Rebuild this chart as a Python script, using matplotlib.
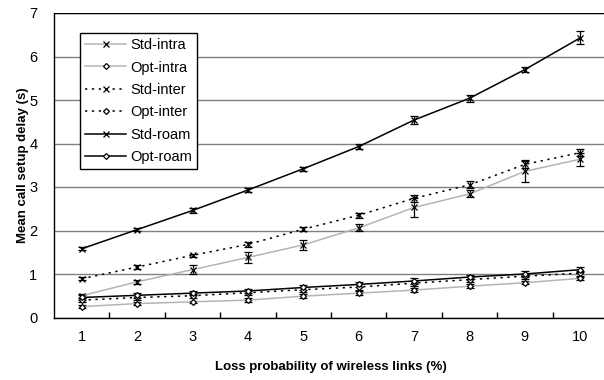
import matplotlib.pyplot as plt
import numpy as np
from matplotlib.lines import Line2D

plt.rcParams["font.family"] = ["Liberation Sans", "DejaVu Sans"]

loss = [1, 2, 3, 4, 5, 6, 7, 8, 9, 10]

std_intra = [0.50, 0.82, 1.10, 1.38, 1.67, 2.06, 2.53, 2.84, 3.36, 3.64]
opt_intra = [0.25, 0.32, 0.36, 0.40, 0.49, 0.56, 0.63, 0.72, 0.80, 0.90]
std_inter = [0.89, 1.16, 1.43, 1.68, 2.03, 2.35, 2.74, 3.05, 3.52, 3.79]
opt_inter = [0.40, 0.46, 0.50, 0.57, 0.64, 0.70, 0.79, 0.87, 0.95, 1.02]
std_roam = [1.58, 2.02, 2.46, 2.93, 3.42, 3.93, 4.54, 5.04, 5.70, 6.43]
opt_roam = [0.46, 0.51, 0.56, 0.61, 0.69, 0.76, 0.84, 0.93, 1.00, 1.10]

std_intra_err = [0.05, 0.05, 0.10, 0.12, 0.12, 0.08, 0.22, 0.08, 0.25, 0.15]
opt_intra_err = [0.03, 0.03, 0.03, 0.04, 0.04, 0.04, 0.04, 0.04, 0.04, 0.04]
std_inter_err = [0.03, 0.04, 0.04, 0.05, 0.05, 0.06, 0.08, 0.08, 0.08, 0.08]
opt_inter_err = [0.04, 0.05, 0.05, 0.05, 0.06, 0.06, 0.06, 0.06, 0.06, 0.06]
std_roam_err = [0.03, 0.04, 0.06, 0.04, 0.05, 0.05, 0.10, 0.08, 0.05, 0.15]
opt_roam_err = [0.05, 0.06, 0.05, 0.05, 0.05, 0.05, 0.06, 0.05, 0.06, 0.06]

dotted = (0, (1.5, 3))
series = [
    ("Std-intra", std_intra, std_intra_err, "#b4b4b4", "-", "x"),
    ("Opt-intra", opt_intra, opt_intra_err, "#b4b4b4", "-", "D"),
    ("Std-inter", std_inter, std_inter_err, "black", dotted, "x"),
    ("Opt-inter", opt_inter, opt_inter_err, "black", dotted, "D"),
    ("Std-roam", std_roam, std_roam_err, "black", "-", "x"),
    ("Opt-roam", opt_roam, opt_roam_err, "black", "-", "D"),
]

fig = plt.figure(figsize=(6.04, 3.80), dpi=100)
ax = fig.add_axes([54 / 604, 62.5 / 380, 554 / 604, 304.5 / 380])

handles = []
for label, vals, errs, color, ls, marker in series:
    ms = 4 if marker == "x" else 3
    mfc = "white" if marker == "D" else "black"
    ax.errorbar(loss, vals, yerr=errs, color=color, ls=ls, lw=1.1,
                marker=marker, ms=ms, mfc=mfc, mec="black", mew=0.9,
                ecolor="black", elinewidth=0.9, capsize=3, capthick=0.9)
    handles.append(Line2D([], [], color=color, ls=ls, lw=1.1, marker=marker,
                          ms=ms, mfc=mfc, mec="black", mew=0.9, label=label))

ax.set_xlim(0.5, 10.5)
ax.set_ylim(0, 7)
ax.set_yticks(range(0, 8))
ax.set_xticks(loss)
ax.set_xticks(np.arange(1.5, 10.5, 1), minor=True)
ax.tick_params(axis="x", which="major", length=0, labelsize=10.5, pad=9)
ax.tick_params(axis="x", which="minor", length=4, direction="in", width=1)
ax.tick_params(axis="y", length=0, labelsize=10.5, pad=12)

ax.grid(axis="y", color="#808080", lw=1)
ax.set_axisbelow(True)
ax.axhline(7, color="black", lw=1)
for side in ["top", "right"]:
    ax.spines[side].set_visible(False)
ax.spines["left"].set_linewidth(1)
ax.spines["bottom"].set_linewidth(1)

ax.set_xlabel("Loss probability of wireless links (%)", fontsize=9.5,
              fontweight="bold", labelpad=12)
ax.set_ylabel("Mean call setup delay (s)", fontsize=9.5, fontweight="bold",
              labelpad=0)

leg = ax.legend(handles=handles, loc="upper left",
                bbox_to_anchor=(80 / 604, 1 - 33 / 380),
                bbox_transform=fig.transFigure, fontsize=10.5, frameon=True,
                fancybox=False, framealpha=1, edgecolor="black",
                handlelength=2.8, labelspacing=0.58, borderpad=0.35,
                handletextpad=0.3, borderaxespad=0)
leg.get_frame().set_linewidth(1)

fig.savefig("out.png", dpi=100)
